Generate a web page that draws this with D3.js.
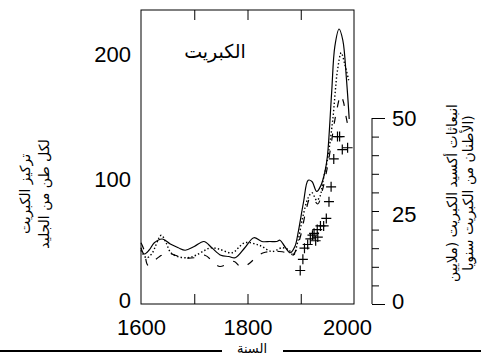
<!DOCTYPE html>
<html>
<head>
<meta charset="utf-8">
<script src="https://cdn.jsdelivr.net/npm/d3@7"></script>
<style>
  html, body { margin: 0; padding: 0; background: #fff; }
  svg { display: block; }
  text { font-family: "Liberation Sans", Arial, "DejaVu Sans", sans-serif; fill: #000; }
  .ar { font-family: "DejaVu Sans", sans-serif; }
</style>
</head>
<body>
<svg id="chart" width="481" height="356"></svg>
<script>
// ---- data ----
const solidYears  = [1600,1606,1615,1625,1640,1655,1670,1683,1700,1718,1733,1750,1765,1777,1795,1812,1827,1842,1855,1861,1870,1880,1889,1895,1905,1914,1921,1930,1938,1945,1950,1958,1964,1972,1979,1986,1991];
const solidValues = [45,40,43,49,52,48,45,43,46,50,45,39,38,37,45,53,50,50,50,51,46,41,46,57,81,99,98,90,95,105,118,169,206,220,211,179,148];

const dottedYears  = [1600,1610,1620,1638,1647,1656,1669,1688,1703,1720,1731,1746,1771,1795,1822,1846,1865,1878,1886,1895,1904,1914,1921,1930,1936,1942,1950,1960,1969,1976,1982,1990];
const dottedValues = [43,37,40,55,49,41,38,37,39,43,45,44,41,49,47,42,45,43,39,51,70,85,89,83,86,99,115,147,187,201,193,179];

const dashedYears  = [1600,1606,1613,1623,1635,1649,1664,1680,1700,1720,1737,1748,1762,1775,1786,1795,1805,1818,1830,1845,1860,1872,1882,1890,1900,1910,1918,1925,1932,1940,1948,1955,1962,1968,1975,1980,1985,1990];
const dashedValues = [49,43,31,34,38,41,39,37,37,39,33,30,32,34,30,30,33,38,41,42,42,41,38,42,55,75,85,83,80,90,105,122,142,156,167,162,150,140];

const emissionYears  = [1899,1904,1907,1913,1918,1922,1925,1928,1931,1932,1937,1943,1948,1953,1957,1962,1969,1973,1978,1988];
const emissionValues = [9,12,15,16,17.5,18.5,19,17,20,18,21,21,23,27.5,31.5,39,45,45,41.5,42];

const xTickYears   = [1600,1700,1800,1900,2000];
const xLabelYears  = [1600,1800,2000];
const leftTicks    = [0,100,200];
const rightTicks   = [0,5,10,15,20,25,30,35,40,45,50];
const rightLabels  = [0,25,50];

const titleText  = "الكبريت";
const leftTitle  = ["تركيز الكبريت", "لكل طن من الجليد"];
const rightTitle = ["انبعاثات أكسيد الكبريت (ملايين", "الأطنان من الكبريت سنويا)"];
const xTitle     = "السنة";

// ---- layout ----
const svg = d3.select("#chart");
const L = 141, R = 354, T = 10, B = 304;
const x  = d3.scaleLinear().domain([1600, 2000]).range([L, R]);
const yL = d3.scaleLinear().domain([0, 200]).range([B, 54]);
const yR = d3.scaleLinear().domain([0, 50]).range([B, 118]);

// box
svg.append("rect").attr("x", L).attr("y", T).attr("width", R - L).attr("height", B - T)
  .attr("fill", "none").attr("stroke", "#000").attr("stroke-width", 1);

// bottom axis (ticks inward)
const gx = svg.append("g").attr("transform", `translate(0,${B})`)
  .call(d3.axisBottom(x).tickValues(xTickYears).tickSizeInner(-10).tickSizeOuter(0).tickPadding(15)
    .tickFormat(d => xLabelYears.includes(d) ? d : ""));
gx.select(".domain").remove();
gx.selectAll(".tick line").attr("stroke", "#000").filter(d => d === 1600 || d === 2000).remove();
gx.selectAll(".tick text").attr("font-size", 22).attr("font-family", null)
  .attr("dx", d => d === 2000 ? -7 : 0);

// top ticks (inward)
const gt = svg.append("g").attr("transform", `translate(0,${T})`)
  .call(d3.axisTop(x).tickValues(xTickYears.filter(d => d > 1600 && d < 2000)).tickSizeInner(-10).tickSizeOuter(0).tickFormat(""));
gt.select(".domain").remove();
gt.selectAll(".tick line").attr("stroke", "#000");

// left axis labels
const gl = svg.append("g").attr("transform", `translate(${L},0)`)
  .call(d3.axisLeft(yL).tickValues(leftTicks).tickSize(0).tickPadding(10));
gl.select(".domain").remove();
gl.selectAll(".tick text").attr("font-size", 22).attr("font-family", null)
  .attr("y", d => d === 0 ? -4 : 0);

// right axis
const gr = svg.append("g").attr("transform", `translate(372,0)`)
  .call(d3.axisRight(yR).tickValues(rightTicks).tickSize(7).tickPadding(13).tickSizeOuter(0)
    .tickFormat(d => rightLabels.includes(d) ? d : ""));
gr.select(".domain").attr("stroke", "#000").attr("d", `M0,${yR(50)}V${yR(0)}`);
gr.selectAll(".tick line").attr("stroke", "#000").attr("x2", d => (d === 0 || d === 50) ? 13 : 7);
gr.selectAll(".tick text").attr("font-size", 22).attr("font-family", null)
  .attr("y", d => d === 0 ? -3 : (d === 25 ? 3 : 0));

// lines
const line = d3.line().curve(d3.curveCatmullRom.alpha(0.5));
function series(ys, vs) { return ys.map((yr, i) => [x(yr), yL(vs[i])]); }

svg.append("path").attr("d", line(series(solidYears, solidValues)))
  .attr("fill", "none").attr("stroke", "#000").attr("stroke-width", 1.2);
svg.append("path").attr("d", line(series(dottedYears, dottedValues)))
  .attr("fill", "none").attr("stroke", "#000").attr("stroke-width", 1.4).attr("stroke-dasharray", "1.4,2.2");
svg.append("path").attr("d", line(series(dashedYears, dashedValues)))
  .attr("fill", "none").attr("stroke", "#000").attr("stroke-width", 1.2).attr("stroke-dasharray", "7,10");

// plus markers
svg.append("g").selectAll("path").data(emissionYears.map((yr, i) => [yr, emissionValues[i]]))
  .join("path")
  .attr("transform", d => `translate(${x(d[0])},${yR(d[1])})`)
  .attr("d", "M-5,0H5M0,-5V5")
  .attr("stroke", "#000").attr("stroke-width", 1.2).attr("fill", "none");

// title
svg.append("text").attr("class", "ar").attr("x", 215).attr("y", 58)
  .attr("text-anchor", "middle").attr("font-size", 19).attr("direction", "rtl")
  .style("unicode-bidi", "plaintext").text(titleText);

// left title (rotated)
const lt = svg.append("text").attr("class", "ar").attr("transform", "translate(30,194) rotate(-90)")
  .attr("text-anchor", "middle").attr("font-size", 14);
leftTitle.forEach((s, i) => lt.append("tspan").attr("x", 0).attr("y", i * 19).text(s));

// right title (rotated)
const rt = svg.append("text").attr("class", "ar").attr("transform", "translate(457,193) rotate(-90)")
  .attr("text-anchor", "middle").attr("font-size", 14);
rightTitle.forEach((s, i) => rt.append("tspan").attr("x", 0).attr("y", i * 16).text(s));

// bottom rule with x title
svg.append("line").attr("x1", 0).attr("x2", 222).attr("y1", 351).attr("y2", 351).attr("stroke", "#000").attr("stroke-width", 2);
svg.append("line").attr("x1", 283).attr("x2", 481).attr("y1", 351).attr("y2", 351).attr("stroke", "#000").attr("stroke-width", 2);
svg.append("text").attr("class", "ar").attr("x", 252).attr("y", 353).attr("text-anchor", "middle")
  .attr("font-size", 13).text(xTitle);
</script>
</body>
</html>
